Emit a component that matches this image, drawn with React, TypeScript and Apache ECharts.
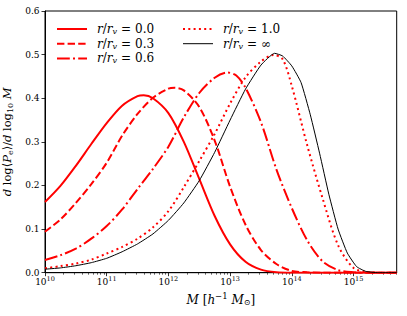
import React, { useEffect, useRef } from "react";
import * as echarts from "echarts";

// x values are log10(M / [h^-1 Msun])
const logM0 = [10.0, 10.25, 10.5, 10.75, 11.0, 11.25, 11.5, 11.6, 11.75, 12.0, 12.25, 12.5, 12.75, 13.0, 13.25, 13.5, 13.75, 14.0, 15.7];
const val0 = [0.162, 0.199, 0.245, 0.295, 0.343, 0.383, 0.405, 0.407, 0.4, 0.366, 0.3, 0.215, 0.13, 0.065, 0.025, 0.007, 0.001, 0.0, 0.0];

const logM1 = [10.0, 10.25, 10.5, 10.75, 11.0, 11.25, 11.5, 11.75, 12.0, 12.1, 12.25, 12.5, 12.75, 13.0, 13.25, 13.5, 13.75, 14.0, 14.25, 14.5, 15.7];
const val1 = [0.094, 0.122, 0.16, 0.203, 0.252, 0.314, 0.364, 0.401, 0.422, 0.424, 0.418, 0.38, 0.303, 0.197, 0.11, 0.052, 0.02, 0.004, 0.001, 0.0, 0.0];

const logM2 = [10.0, 10.25, 10.5, 10.75, 11.0, 11.25, 11.5, 11.75, 12.0, 12.25, 12.5, 12.75, 12.95, 13.1, 13.25, 13.5, 13.75, 14.0, 14.25, 14.5, 14.75, 15.0, 15.25, 15.7];
const val2 = [0.029, 0.04, 0.055, 0.078, 0.107, 0.145, 0.192, 0.238, 0.289, 0.356, 0.412, 0.447, 0.459, 0.452, 0.424, 0.345, 0.237, 0.148, 0.074, 0.026, 0.006, 0.001, 0.0, 0.0];

const logM3 = [10.0, 10.25, 10.5, 10.75, 11.0, 11.25, 11.5, 11.75, 12.0, 12.25, 12.5, 12.75, 13.0, 13.25, 13.5, 13.7, 13.85, 14.0, 14.25, 14.5, 14.75, 15.0, 15.25, 15.5, 15.7];
const val3 = [0.01, 0.015, 0.021, 0.03, 0.044, 0.059, 0.078, 0.104, 0.141, 0.196, 0.256, 0.318, 0.388, 0.448, 0.484, 0.499, 0.49, 0.428, 0.292, 0.17, 0.063, 0.011, 0.001, 0.0, 0.0];

const logM4 = [10.0, 10.25, 10.5, 10.75, 11.0, 11.25, 11.5, 11.75, 12.0, 12.25, 12.5, 12.75, 13.0, 13.25, 13.5, 13.72, 13.85, 14.0, 14.15, 14.3, 14.45, 14.6, 14.75, 14.9, 15.05, 15.2, 15.4, 15.7];
const val4 = [0.008, 0.011, 0.016, 0.023, 0.033, 0.048, 0.066, 0.089, 0.12, 0.16, 0.211, 0.276, 0.35, 0.421, 0.476, 0.503, 0.497, 0.474, 0.436, 0.362, 0.274, 0.18, 0.1, 0.045, 0.014, 0.003, 0.0, 0.0];

const seriesNames = ["0.0", "0.3", "0.6", "1.0", "∞"];
const majorTicksX = [10, 11, 12, 13, 14, 15];
const yTicks = [0, 0.1, 0.2, 0.3, 0.4, 0.5, 0.6];

const X_MIN = 10;
const X_MAX = 15.7;

const FONT = "DejaVu Serif";

function pairs(xs: number[], ys: number[]) {
  return xs.map((x, i) => [x, ys[i]]);
}

const minorTicksX: number[] = [];
for (let n = 10; n <= 15; n++) {
  for (let k = 2; k <= 9; k++) {
    const v = n + Math.log10(k);
    if (v < X_MAX) minorTicksX.push(v);
  }
}

const RED = "#ff0000";

type Sty = { color: string; width: number; dash: number[] | null };
const styles: Sty[] = [
  { color: RED, width: 2, dash: null },
  { color: RED, width: 2, dash: [7.4, 3.2] },
  { color: RED, width: 2, dash: [12.8, 3.2, 2, 3.2] },
  { color: RED, width: 2, dash: [2, 3.3] },
  { color: "#000", width: 1, dash: null },
];

export default function App() {
  const ref = useRef<HTMLDivElement>(null);
  useEffect(() => {
    document.body.style.margin = "0";
    if (!ref.current) return;
    const chart = echarts.init(ref.current, undefined, { renderer: "svg" });

    const LF = 12;
    const legendRich = {
      i: { fontFamily: FONT, fontSize: LF, fontStyle: "italic", color: "#000" },
      t: { fontFamily: FONT, fontSize: LF, color: "#000" },
      e: { fontFamily: FONT, fontSize: LF, color: "#000", padding: [0, 4, 0, 4] },
      sub: { fontFamily: FONT, fontSize: 8, fontStyle: "italic", padding: [5, 0, 0, 0], color: "#000" },
    };
    const legendCols = [
      { x: 57, tx: 97, items: [0, 1, 2] },
      { x: 183, tx: 223, items: [3, 4] },
    ];
    const graphics: any[] = [];
    legendCols.forEach((col) => {
      col.items.forEach((si, row) => {
        const y = 29 + row * 14.7;
        const st = styles[si];
        graphics.push({
          type: "line",
          shape: { x1: col.x, y1: y, x2: col.x + 30, y2: y },
          style: { stroke: st.color, lineWidth: st.width, lineDash: st.dash || undefined, lineCap: "butt" },
          silent: true,
        });
        graphics.push({
          type: "text",
          x: col.tx,
          y,
          style: {
            text: `{i|r}{t|/}{i|r}{sub|v}{e|=}{t|${seriesNames[si]}}`,
            rich: legendRich,
            verticalAlign: "middle",
            align: "left",
          },
          silent: true,
        });
      });
    });

    const mk = (si: number, xs: number[], ys: number[], smooth: number | boolean) => ({
      name: seriesNames[si],
      type: "line",
      xAxisIndex: 0,
      yAxisIndex: 0,
      data: pairs(xs, ys),
      symbol: "none",
      smooth,
      lineStyle: { color: styles[si].color, width: styles[si].width, type: styles[si].dash || "solid", cap: "butt" },
      itemStyle: { color: styles[si].color },
      z: 3,
    });
    const option: any = {
      animation: false,
      textStyle: { fontFamily: FONT },
      grid: {
        left: 45,
        right: 10.3,
        top: 11,
        bottom: 43.3,
        show: true,
        borderColor: "#000",
        borderWidth: 1,
        backgroundColor: "transparent",
        containLabel: false,
        outerBoundsMode: "none",
      },
      graphic: graphics,
      xAxis: [
        {
          type: "value",
          min: X_MIN,
          max: X_MAX,
          position: "bottom",
          axisLine: { show: true, lineStyle: { color: "#000", width: 1 } },
          axisTick: { show: true, inside: false, length: 3.5, customValues: majorTicksX, lineStyle: { color: "#000", width: 0.8 } },
          axisLabel: {
            customValues: majorTicksX,
            margin: 3,
            fontFamily: FONT,
            fontSize: 9,
            color: "#000",
            formatter: (v: number) => `{b|10}{s|${Math.round(v)}}`,
            rich: {
              b: { fontFamily: FONT, fontSize: 9, color: "#000" },
              s: { fontFamily: FONT, fontSize: 6.5, color: "#000", padding: [0, 0, 6, 0] },
            },
          },
          splitLine: { show: false },
          name: "{i|M}{t| [}{i|h}{s|−1}{t| }{i|M}{u|⊙}{t|]}",
          nameLocation: "middle",
          nameGap: 19,
          nameTextStyle: {
            fontFamily: FONT,
            fontSize: 12,
            color: "#000",
            rich: {
              i: { fontFamily: FONT, fontSize: 12, fontStyle: "italic", color: "#000" },
              t: { fontFamily: FONT, fontSize: 12, color: "#000" },
              s: { fontFamily: FONT, fontSize: 8.5, color: "#000", padding: [0, 0, 7, 0] },
              u: { fontFamily: FONT, fontSize: 8, color: "#000", padding: [6, 0, 0, 0] },
            },
          },
        },
        {
          type: "value",
          min: X_MIN,
          max: X_MAX,
          position: "bottom",
          axisLine: { show: false },
          axisTick: { show: true, inside: false, length: 2, customValues: minorTicksX, lineStyle: { color: "#000", width: 0.6 } },
          axisLabel: { show: false },
          splitLine: { show: false },
        },
      ],
      yAxis: [
        {
          type: "value",
          min: 0,
          max: 0.6,
          interval: 0.1,
          axisLine: { show: true, lineStyle: { color: "#000", width: 1 } },
          axisTick: { show: true, inside: false, length: 3.5, customValues: yTicks, lineStyle: { color: "#000", width: 0.8 } },
          axisLabel: {
            customValues: yTicks,
            margin: 5.5,
            fontFamily: FONT,
            fontSize: 9,
            color: "#000",
            formatter: (v: number) => v.toFixed(1),
          },
          splitLine: { show: false },
          name: "{i|d}{t| log⟨}{i|P}{b|e}{t|⟩/}{i|d}{t| log}{b|10}{t| }{i|M}",
          nameLocation: "middle",
          nameRotate: 90,
          nameGap: 23,
          nameTextStyle: {
            fontFamily: FONT,
            fontSize: 11.5,
            color: "#000",
            rich: {
              i: { fontFamily: FONT, fontSize: 11.5, fontStyle: "italic", color: "#000" },
              t: { fontFamily: FONT, fontSize: 11.5, color: "#000" },
              b: { fontFamily: FONT, fontSize: 8, color: "#000", padding: [6, 0, 0, 0] },
            },
          },
        },
      ],
      series: [
        mk(0, logM0, val0, 0.3),
        mk(1, logM1, val1, 0.3),
        mk(2, logM2, val2, 0.3),
        mk(3, logM3, val3, 0.3),
        mk(4, logM4, val4, 0.15),
      ],
    };
    chart.setOption(option);
    return () => chart.dispose();
  }, []);
  return <div ref={ref} style={{ width: 407, height: 316 }} />;
}
